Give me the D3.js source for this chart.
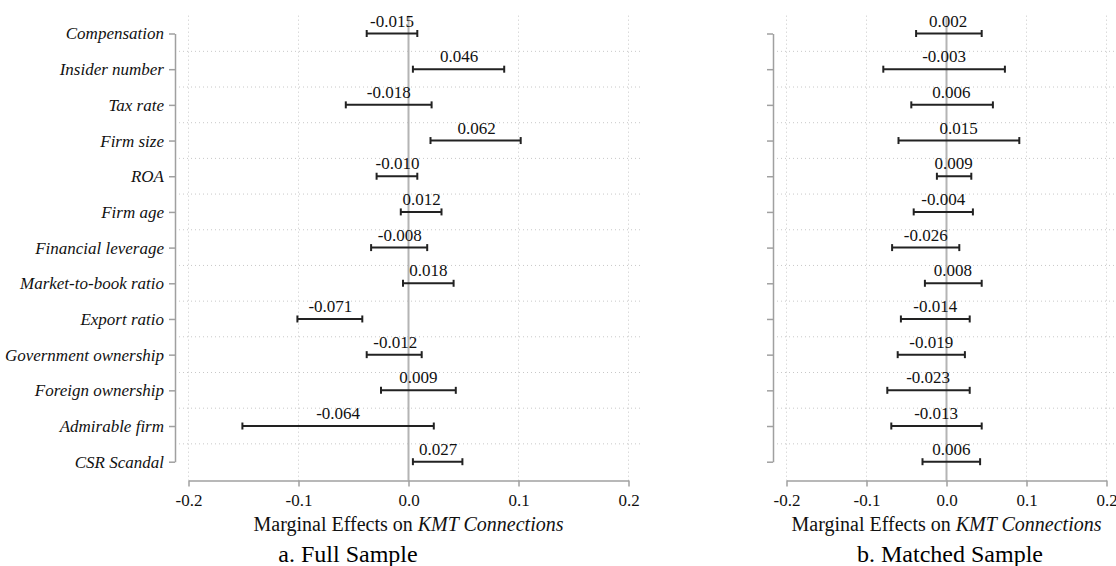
<!DOCTYPE html>
<html>
<head>
<meta charset="utf-8">
<script src="https://cdn.jsdelivr.net/npm/d3@7"></script>
<style>
    body { margin: 0; background: #fff; }
    svg { display: block; }
</style>
</head>
<body>
<div class="canvas"></div>
<script>
// Variables shown on the y axis, top to bottom
const labels = ["Compensation", "Insider number", "Tax rate", "Firm size", "ROA", "Firm age",
    "Financial leverage", "Market-to-book ratio", "Export ratio", "Government ownership",
    "Foreign ownership", "Admirable firm", "CSR Scandal"];

// a. Full Sample: point estimates and confidence bounds
const fullEst = [-0.015, 0.046, -0.018, 0.062, -0.010, 0.012, -0.008, 0.018, -0.071, -0.012, 0.009, -0.064, 0.027];
const fullLo = [-0.038, 0.004, -0.057, 0.020, -0.029, -0.007, -0.034, -0.005, -0.101, -0.038, -0.025, -0.151, 0.004];
const fullHi = [0.008, 0.087, 0.021, 0.102, 0.008, 0.030, 0.017, 0.041, -0.042, 0.012, 0.043, 0.023, 0.049];

// b. Matched Sample
const matchEst = [0.002, -0.003, 0.006, 0.015, 0.009, -0.004, -0.026, 0.008, -0.014, -0.019, -0.023, -0.013, 0.006];
const matchLo = [-0.038, -0.079, -0.044, -0.060, -0.012, -0.041, -0.068, -0.027, -0.057, -0.061, -0.074, -0.069, -0.030];
const matchHi = [0.044, 0.073, 0.058, 0.091, 0.031, 0.033, 0.016, 0.044, 0.029, 0.023, 0.029, 0.044, 0.042];

const xTicks = [-0.2, -0.1, 0, 0.1, 0.2];

const width = 1116, height = 566;
const serif = "'Liberation Serif', 'Times New Roman', serif";

const svg = d3.select(".canvas")
    .append("svg")
    .attr("width", width)
    .attr("height", height);

// Shared y positions for rows
const yScale = d3.scalePoint()
    .domain(labels)
    .range([33.5, 461.7]);
const step = yScale.step();
const plotTop = yScale(labels[0]) - step / 2;
const plotBottom = 480.5;

function drawPanel(opts) {
    const x = d3.scaleLinear().domain([-0.2, 0.2]).range(opts.xRange);
    const g = svg.append("g");
    const rows = labels.map((d, i) => ({ name: d, est: opts.est[i], lo: opts.lo[i], hi: opts.hi[i] }));

    // dotted grid: vertical at ticks, horizontal between rows
    g.append("g").selectAll("line")
        .data(xTicks.filter(t => t !== 0))
        .enter().append("line")
        .attr("x1", d => x(d)).attr("x2", d => x(d))
        .attr("y1", plotTop).attr("y2", plotBottom)
        .attr("stroke", "#c8c8c8")
        .attr("stroke-dasharray", "1,3");

    g.append("g").selectAll("line")
        .data(labels.slice(1))
        .enter().append("line")
        .attr("x1", opts.yAxisX + 4).attr("x2", x(0.2) + 12)
        .attr("y1", d => yScale(d) - step / 2).attr("y2", d => yScale(d) - step / 2)
        .attr("stroke", "#c8c8c8")
        .attr("stroke-dasharray", "1,3");

    // zero reference line
    g.append("line")
        .attr("x1", x(0)).attr("x2", x(0))
        .attr("y1", plotTop).attr("y2", plotBottom)
        .attr("stroke", "#b4b4b4")
        .attr("stroke-width", 2);

    // y axis
    const yAxis = g.append("g")
        .attr("transform", `translate(${opts.yAxisX},0)`)
        .call(d3.axisLeft(yScale).tickSize(6).tickSizeOuter(0).tickPadding(5)
            .tickFormat(opts.showLabels ? (d => d) : () => ""));
    yAxis.selectAll("path, line").attr("stroke", "#a0a0a0").attr("stroke-width", 1.5);
    yAxis.selectAll("text")
        .attr("fill", "#111")
        .style("font-family", serif)
        .style("font-style", "italic")
        .style("font-size", "17px");

    // x axis
    const xAxis = g.append("g")
        .attr("transform", `translate(0,${plotBottom})`)
        .call(d3.axisBottom(x).tickValues(xTicks).tickSize(6).tickSizeOuter(0).tickPadding(7)
            .tickFormat(d => d.toFixed(1)));
    xAxis.selectAll("path, line").attr("stroke", "#a0a0a0").attr("stroke-width", 1.5);
    xAxis.selectAll("text")
        .attr("fill", "#111")
        .style("font-family", serif)
        .style("font-size", "17px");

    // confidence intervals
    const bars = g.append("g").selectAll("g")
        .data(rows)
        .enter().append("g");

    bars.append("line")
        .attr("x1", d => x(d.lo)).attr("x2", d => x(d.hi))
        .attr("y1", d => yScale(d.name)).attr("y2", d => yScale(d.name))
        .attr("stroke", "#222").attr("stroke-width", 2);

    bars.selectAll(".cap")
        .data(d => [{ v: d.lo, name: d.name }, { v: d.hi, name: d.name }])
        .enter().append("line")
        .attr("class", "cap")
        .attr("x1", d => x(d.v)).attr("x2", d => x(d.v))
        .attr("y1", d => yScale(d.name) - 3.5).attr("y2", d => yScale(d.name) + 3.5)
        .attr("stroke", "#222").attr("stroke-width", 2);

    bars.append("text")
        .attr("x", d => x(d.est))
        .attr("y", d => yScale(d.name) - 7)
        .attr("text-anchor", "middle")
        .attr("fill", "#111")
        .style("font-family", serif)
        .style("font-size", "17px")
        .text(d => d.est.toFixed(3));

    // axis title
    const title = g.append("text")
        .attr("x", x(0))
        .attr("y", 531)
        .attr("text-anchor", "middle")
        .attr("fill", "#111")
        .style("font-family", serif)
        .style("font-size", "20px");
    title.append("tspan").text("Marginal Effects on ");
    title.append("tspan").style("font-style", "italic").text("KMT Connections");

    // panel caption
    g.append("text")
        .attr("x", opts.captionX)
        .attr("y", 562)
        .attr("text-anchor", "middle")
        .attr("fill", "#000")
        .style("font-family", serif)
        .style("font-size", "24px")
        .text(opts.caption);
}

drawPanel({
    est: fullEst, lo: fullLo, hi: fullHi,
    xRange: [188.5, 628.5], yAxisX: 175, showLabels: true,
    caption: "a. Full Sample", captionX: 348
});

drawPanel({
    est: matchEst, lo: matchLo, hi: matchHi,
    xRange: [786.5, 1106.5], yAxisX: 773, showLabels: false,
    caption: "b. Matched Sample", captionX: 950
});
</script>
</body>
</html>
